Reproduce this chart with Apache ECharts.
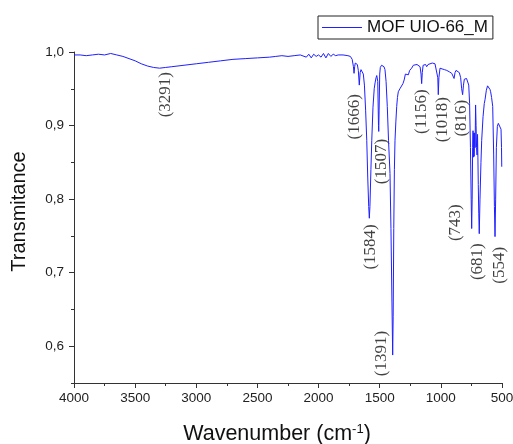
<!DOCTYPE html>
<html>
<head>
<meta charset="utf-8">
<script src="https://cdn.jsdelivr.net/npm/echarts@6/dist/echarts.min.js"></script>
<style>html,body{margin:0;padding:0;background:#fff}#c{width:513px;height:444px}</style>
</head>
<body>
<div id="c"></div>
<script>
var seriesName = 'MOF UIO-66_M';
var wavenumbers = [4000,3950,3900,3850,3800,3750,3700,3650,3600,3550,3500,3450,3400,3350,3300,3250,3200,3100,3000,2900,2800,2700,2600,2500,2400,2350,2300,2250,2200,2150,2100,2080,2060,2040,2020,2000,1980,1960,1940,1920,1900,1880,1860,1840,1800,1760,1740,1725,1715,1710,1705,1700,1690,1683,1675,1667,1660,1653,1644,1634,1625,1615,1606,1598,1590,1585,1580,1572,1565,1555,1545,1538,1530,1524,1516,1510,1508,1505,1500,1495,1485,1475,1465,1457,1448,1438,1428,1416,1408,1400,1394,1390,1385,1380,1375,1368,1361,1355,1348,1335,1320,1310,1300,1290,1285,1275,1266,1255,1239,1225,1211,1195,1184,1170,1162,1157,1152,1145,1138,1125,1116,1105,1089,1070,1048,1035,1025,1021,1016,1007,990,970,952,930,911,900,892,884,876,865,849,838,830,822,815,808,802,790,780,772,765,758,752,748,744,740,737,734,731,728,724,720,716,712,708,704,700,697,694,690,686,680,672,666,655,645,639,628,618,612,605,598,593,585,576,568,562,557,552,546,538,530,522,515,508,504,502];
var transmittance = [0.996,0.996,0.995,0.996,0.997,0.996,0.998,0.996,0.994,0.991,0.988,0.984,0.981,0.979,0.978,0.979,0.980,0.982,0.984,0.986,0.988,0.990,0.991,0.992,0.993,0.994,0.995,0.994,0.995,0.996,0.993,0.997,0.992,0.997,0.994,0.996,0.993,0.998,0.992,0.998,0.994,0.997,0.995,0.996,0.996,0.995,0.994,0.990,0.980,0.971,0.980,0.985,0.985,0.983,0.975,0.955,0.972,0.976,0.974,0.970,0.955,0.920,0.880,0.830,0.790,0.774,0.790,0.840,0.880,0.925,0.950,0.958,0.965,0.968,0.960,0.900,0.892,0.920,0.970,0.979,0.982,0.982,0.980,0.976,0.960,0.926,0.880,0.835,0.760,0.660,0.588,0.640,0.760,0.840,0.880,0.905,0.926,0.938,0.946,0.950,0.952,0.957,0.962,0.970,0.968,0.972,0.969,0.975,0.978,0.982,0.984,0.983,0.982,0.980,0.970,0.957,0.972,0.982,0.984,0.983,0.980,0.983,0.984,0.985,0.984,0.983,0.965,0.942,0.965,0.978,0.977,0.976,0.975,0.973,0.971,0.969,0.964,0.972,0.975,0.975,0.972,0.965,0.950,0.942,0.955,0.963,0.964,0.964,0.962,0.955,0.930,0.870,0.800,0.760,0.800,0.870,0.893,0.857,0.890,0.858,0.890,0.870,0.928,0.900,0.870,0.860,0.888,0.856,0.820,0.780,0.753,0.800,0.850,0.880,0.912,0.930,0.935,0.948,0.954,0.955,0.952,0.949,0.946,0.938,0.926,0.860,0.790,0.749,0.800,0.870,0.899,0.903,0.905,0.902,0.895,0.870,0.844];
var peakLabels = ['(3291)','(1666)','(1507)','(1584)','(1391)','(1156)','(1018)','(816)','(743)','(681)','(554)'];
var peakLabelX = [3248,1702,1489,1579,1489,1154,990,827,876,704,524];
var peakLabelY = [0.942,0.912,0.851,0.735,0.590,0.919,0.908,0.910,0.768,0.715,0.710];
var yMajorTicks = [0.6,0.7,0.8,0.9,1.0];
var yMinorTicks = [0.55,0.65,0.75,0.85,0.95];

var lineData = wavenumbers.map(function(w,i){return [w, transmittance[i]];});
var labelData = peakLabels.map(function(t,i){return {value:[peakLabelX[i], peakLabelY[i]], name:t};});

var sans = 'Liberation Sans, Arial, sans-serif';
var chart = echarts.init(document.getElementById('c'), null, {renderer:'canvas'});
chart.setOption({
  animation: false,
  backgroundColor: '#fff',
  grid: {left: 74, right: 11, top: 52, bottom: 61, containLabel: false, outerBoundsMode: 'none'},
  legend: {
    data: [{name: seriesName, icon: 'rect'}],
    left: 318, top: 16,
    padding: [3, 5, 3, 4],
    itemWidth: 40, itemHeight: 1.2,
    borderColor: '#222', borderWidth: 1, borderRadius: 0,
    textStyle: {fontFamily: sans, fontSize: 17, color: '#111'}
  },
  xAxis: {
    type: 'value', inverse: true, min: 500, max: 4000, interval: 500,
    name: '{a|Wavenumber (cm}{s|-1}{a|)}',
    nameLocation: 'middle', nameGap: 40,
    nameTextStyle: {padding: [0, 22, 0, 0], rich: {
      a: {fontFamily: sans, fontSize: 21.5, color: '#111'},
      s: {fontFamily: sans, fontSize: 13, color: '#111', verticalAlign: 'top', padding: [0,0,9,0]}
    }},
    axisLine: {lineStyle: {color: '#333', width: 1}},
    axisTick: {show: true, length: 5, lineStyle: {color: '#333'}},
    minorTick: {show: true, splitNumber: 2, length: 3, lineStyle: {color: '#333'}},
    axisLabel: {fontFamily: sans, fontSize: 13.5, color: '#222', margin: 8,
      formatter: function(v){return String(v);}},
    splitLine: {show: false}
  },
  yAxis: [{
    type: 'value', min: 0.55, max: 1.0,
    name: 'Transmitance', nameLocation: 'middle', nameGap: 45,
    nameTextStyle: {fontFamily: sans, fontSize: 20, color: '#111', padding: [0, 0, 0, 12]},
    axisLine: {show: true, lineStyle: {color: '#333', width: 1}},
    axisTick: {show: true, length: 5, customValues: yMajorTicks, lineStyle: {color: '#333'}},
    axisLabel: {customValues: yMajorTicks, fontFamily: sans, fontSize: 13.5, color: '#222', margin: 10,
      formatter: function(v){return v.toFixed(1).replace('.', ',');}},
    splitLine: {show: false}
  }, {
    type: 'value', min: 0.55, max: 1.0, position: 'left',
    axisLine: {show: false},
    axisTick: {show: true, length: 3, customValues: yMinorTicks, lineStyle: {color: '#333'}},
    axisLabel: {show: false, customValues: yMinorTicks},
    splitLine: {show: false}
  }],
  series: [{
    name: seriesName, type: 'line', data: lineData,
    symbol: 'none', smooth: false,
    lineStyle: {color: '#1f1fff', width: 1},
    itemStyle: {color: '#1f1fff'}
  }, {
    name: 'labels', type: 'scatter', data: labelData,
    symbolSize: 0, silent: true,
    label: {show: true, position: 'inside', rotate: 90, formatter: '{b}',
      fontFamily: 'Liberation Serif, Times New Roman, serif', fontSize: 17, color: '#111'}
  }]
});
</script>
</body>
</html>
